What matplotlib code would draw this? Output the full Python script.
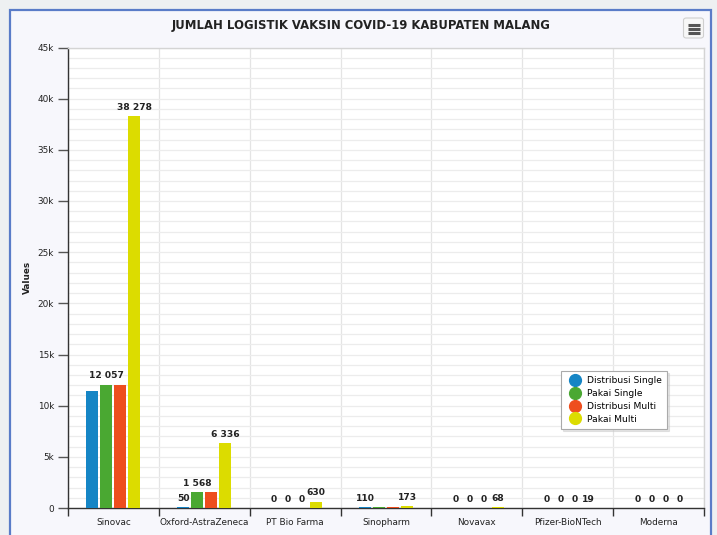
import matplotlib
matplotlib.use("Agg")
import matplotlib.pyplot as plt
import matplotlib.patches as mpatches
from matplotlib.lines import Line2D
from matplotlib.ticker import MultipleLocator, FuncFormatter
import numpy as np

categories = ["Sinovac", "Oxford-AstraZeneca", "PT Bio Farma", "Sinopharm",
              "Novavax", "Pfizer-BioNTech", "Moderna"]
series_names = ["Distribusi Single", "Pakai Single", "Distribusi Multi", "Pakai Multi"]
distribusi_single = [11450, 50, 0, 110, 0, 0, 0]
pakai_single = [12057, 1568, 0, 110, 0, 0, 0]
distribusi_multi = [12057, 1568, 0, 110, 0, 0, 0]
pakai_multi = [38278, 6336, 630, 173, 68, 19, 0]
series_values = [distribusi_single, pakai_single, distribusi_multi, pakai_multi]
colors = ["#1585c5", "#4aa832", "#ee4e1e", "#dcdc00"]
title = "JUMLAH LOGISTIK VAKSIN COVID-19 KABUPATEN MALANG"

W, H = 717, 535
fig = plt.figure(figsize=(W / 100, H / 100), dpi=100)
fig.patch.set_facecolor("#eef0f2")

def fx(px):
    return px / W

def fy(py):
    return 1 - py / H

# chart container with blue border
fig.patches.append(mpatches.Rectangle((fx(9.5), fy(540)), fx(701), (540 - 10.5) / H,
                                      transform=fig.transFigure, facecolor="#f7f7fc",
                                      edgecolor="#5a7cc8", linewidth=1.6, zorder=-10))
# menu button
fig.patches.append(mpatches.FancyBboxPatch((fx(683.5), fy(38)), fx(20), 20 / H,
                                           boxstyle="round,pad=0,rounding_size=0.004",
                                           transform=fig.transFigure, facecolor="#f7f7f7",
                                           edgecolor="#cfcfcf", linewidth=0.8, zorder=1))
for yy in (24.5, 28.5, 32.5):
    fig.lines.append(Line2D([fx(687.5), fx(699.5)], [fy(yy), fy(yy)], transform=fig.transFigure,
                            color="#555555", linewidth=2.2, solid_capstyle="butt", zorder=2))

left, right, top, bottom = 68, 704, 47.5, 508
ax = fig.add_axes([fx(left), fy(bottom), fx(right - left), (bottom - top) / H])
ax.set_facecolor("white")

n = len(categories)
x = np.arange(n)
bw = 0.132
pitch = 0.154
offsets = (np.arange(4) - 1.5) * pitch

labels = []
for i, (vals, col, name) in enumerate(zip(series_values, colors, series_names)):
    ax.bar(x + offsets[i], vals, width=bw, color=col, label=name, zorder=3, linewidth=0)
    for xi, v in zip(x + offsets[i], vals):
        t = ax.annotate(f"{v:,}".replace(",", " "), (xi, v), xytext=(0, 3),
                        textcoords="offset points", ha="center", va="bottom",
                        fontsize=6.6, fontweight="bold", color="#222222", zorder=5)
        labels.append((v, t))

ax.set_xlim(-0.5, n - 0.5)
ax.set_ylim(0, 45000)
ax.yaxis.set_major_locator(MultipleLocator(5000))
ax.yaxis.set_minor_locator(MultipleLocator(1000))
ax.yaxis.set_major_formatter(FuncFormatter(lambda v, p: "0" if v == 0 else f"{int(v/1000)}k"))
ax.set_xticks(x)
ax.set_xticklabels(categories)
ax.set_xticks(np.arange(n + 1) - 0.5, minor=True)
ax.tick_params(axis="x", which="major", length=0, labelsize=6.4, pad=7, colors="#222222")
ax.tick_params(axis="x", which="minor", length=6, width=1, color="#333333")
ax.tick_params(axis="y", which="major", length=7, width=1, color="#555555",
               labelsize=6.4, pad=3, labelcolor="#222222")
ax.tick_params(axis="y", which="minor", length=0)
ax.grid(True, axis="y", which="both", color="#ececec", linewidth=0.9, zorder=0)
ax.grid(True, axis="x", which="minor", color="#e4e4e4", linewidth=0.9, zorder=0)
ax.set_axisbelow(True)
for s in ("left", "bottom"):
    ax.spines[s].set_color("#333333")
    ax.spines[s].set_linewidth(1.0)
for s in ("top", "right"):
    ax.spines[s].set_color("#d4d4d4")
    ax.spines[s].set_linewidth(1.0)

ax.set_ylabel("Values", fontsize=6.4, fontweight="bold", color="#222222", labelpad=4)

fig.text(fx(361.5), fy(25), title, ha="center", va="center", fontsize=8.4,
         fontweight="bold", color="#222222")

leg_handles = [Line2D([0], [0], marker="o", linestyle="", markersize=8.5,
                      markerfacecolor=c, markeredgecolor=c) for c in colors]
leg = ax.legend(leg_handles, series_names, loc="upper left",
                bbox_to_anchor=((561 - left) / (right - left), (bottom - 371) / (bottom - top)),
                fontsize=6.6, frameon=True, fancybox=False, borderpad=0.55,
                handletextpad=0.3, labelspacing=0.42, handlelength=2.0, borderaxespad=0,
                shadow={"color": "#cccccc", "alpha": 0.5, "ox": 1.5, "oy": -1.5})
leg.get_frame().set_edgecolor("#aaaaaa")
leg.get_frame().set_linewidth(0.8)

# hide overlapping data labels (higher value wins, like Highcharts)
fig.canvas.draw()
renderer = fig.canvas.get_renderer()
order = sorted(range(len(labels)), key=lambda k: -labels[k][0])
shown = []
for k in order:
    bb = labels[k][1].get_window_extent(renderer)
    if any(bb.overlaps(o) for o in shown):
        labels[k][1].set_visible(False)
    else:
        shown.append(bb)

fig.savefig("out.png", dpi=100, facecolor=fig.get_facecolor())
